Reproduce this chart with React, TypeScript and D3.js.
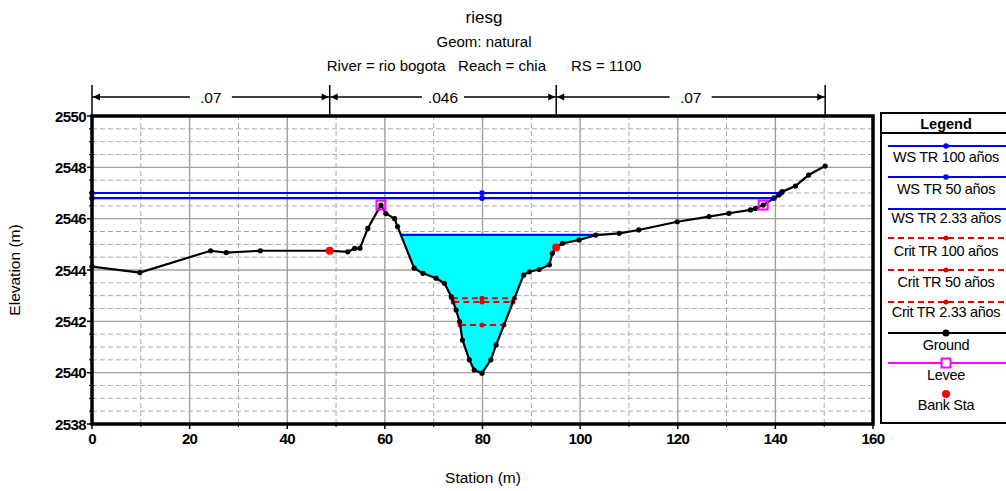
import React from 'react'
import * as d3 from 'd3'

// ground profile (station m, elevation m)
const groundSta = [0, 9.8, 24.3, 27.5, 34.5, 48.7, 52.4, 53.8, 54.9, 56.5, 59.2, 60.2, 62, 62.6, 66, 67.8, 70.5, 72.2, 73.6, 74.6, 75.3, 75.9, 77.3, 78.3, 79.9, 81.7, 82.8, 88.4, 89.6, 91.6, 93.7, 94.3, 95.1, 96.4, 99.8, 103.2, 108, 112, 119.9, 126.4, 130.5, 134.9, 135.9, 137.5, 140.7, 141.4, 144.1, 146.8, 150.2]
const groundElev = [2544.13, 2543.9, 2544.75, 2544.68, 2544.75, 2544.75, 2544.71, 2544.84, 2544.85, 2545.62, 2546.53, 2546.2, 2546.0, 2545.69, 2544.07, 2543.87, 2543.68, 2543.48, 2542.96, 2542.44, 2541.99, 2541.27, 2540.5, 2540.1, 2539.98, 2540.5, 2541.08, 2543.8, 2543.93, 2544.02, 2544.2, 2544.65, 2544.88, 2545.04, 2545.17, 2545.36, 2545.43, 2545.56, 2545.88, 2546.08, 2546.21, 2546.34, 2546.4, 2546.53, 2546.92, 2547.05, 2547.27, 2547.7, 2548.05]

const wsNames = ['WS TR 100 años', 'WS TR 50 años', 'WS TR 2.33 años']
const wsLevels = [2547.0, 2546.8, 2545.37]
const critNames = ['Crit TR 100 años', 'Crit TR 50 años', 'Crit TR 2.33 años']
const critLevels = [2542.9, 2542.75, 2541.86]

const bankSta = [48.7, 95.1]
const leveeSta = [59.2, 137.5]
const nValues = ['.07', '.046', '.07']
const nBounds = [0, 48.7, 95.1, 150.2]

const xTicks = [0, 20, 40, 60, 80, 100, 120, 140, 160]
const yTicks = [2538, 2540, 2542, 2544, 2546, 2548, 2550]

const W = 1006
const H = 491
const font = 'Arial, "Liberation Sans", sans-serif'

const x = d3.scaleLinear().domain([0, 160]).range([92, 873])
const y = d3.scaleLinear().domain([2538, 2550]).range([424, 116])

const elevAt = (s: number) => {
  for (let i = 0; i < groundSta.length - 1; i++) {
    if (s >= groundSta[i] && s <= groundSta[i + 1]) {
      const t = (s - groundSta[i]) / (groundSta[i + 1] - groundSta[i])
      return groundElev[i] + t * (groundElev[i + 1] - groundElev[i])
    }
  }
  return groundElev[groundElev.length - 1]
}

// water extent around the thalweg for a given level
const extent = (level: number) => {
  const iMin = d3.minIndex(groundElev)
  let l = groundSta[0]
  for (let i = iMin; i > 0; i--) {
    if (groundElev[i - 1] >= level) {
      const t = (level - groundElev[i]) / (groundElev[i - 1] - groundElev[i])
      l = groundSta[i] + t * (groundSta[i - 1] - groundSta[i])
      break
    }
  }
  let r = groundSta[groundSta.length - 1]
  for (let i = iMin; i < groundSta.length - 1; i++) {
    if (groundElev[i + 1] >= level) {
      const t = (level - groundElev[i]) / (groundElev[i + 1] - groundElev[i])
      r = groundSta[i] + t * (groundSta[i + 1] - groundSta[i])
      break
    }
  }
  return [l, r]
}

const thalweg = groundSta[d3.minIndex(groundElev)]

export default function App() {
  const groundPts = groundSta.map((s, i) => [s, groundElev[i]] as [number, number])
  const line = d3.line<[number, number]>().x(d => x(d[0])).y(d => y(d[1]))

  // fill for the lowest water surface
  const low = wsLevels[2]
  const [fl, fr] = extent(low)
  const fillPts: [number, number][] = [[fl, low]]
  groundPts.forEach(p => { if (p[0] > fl && p[0] < fr) fillPts.push(p) })
  fillPts.push([fr, low])

  const xMinor = d3.range(10, 160, 20)
  const yMinor = d3.range(2538.5, 2550, 0.5).filter(v => Math.abs(v % 2) > 0.01)

  const legendY = [146, 177, 209, 238, 270, 302, 333, 363, 394]
  const legendTextY = [162, 194, 223, 256, 287, 317, 350, 380, 410]
  const lx0 = 888
  const lx1 = 1010
  const lcx = 946
  const lfs = 14.5

  return (
    <div style={{ position: 'absolute', left: 0, top: 0 }}>
      <svg width={W} height={H} style={{ display: 'block', background: '#fff' }} fontFamily={font}>
        {/* titles */}
        <text x={484} y={23} fontSize={17} textAnchor="middle">riesg</text>
        <text x={484} y={47} fontSize={15} textAnchor="middle">Geom: natural</text>
        <text x={484} y={71} fontSize={15} textAnchor="middle" style={{ whiteSpace: 'pre' }}>
          {'River = rio bogota   Reach = chia      RS = 1100'}
        </text>

        {/* grid */}
        {yMinor.map(v => (
          <line key={'ym' + v} x1={x(0)} x2={x(160)} y1={y(v)} y2={y(v)} stroke="#aaa" strokeDasharray="5,3" />
        ))}
        {xMinor.map(v => (
          <line key={'xm' + v} x1={x(v)} x2={x(v)} y1={y(2538)} y2={y(2550)} stroke="#aaa" strokeDasharray="5,3" />
        ))}
        {yTicks.map(v => (
          <line key={'yg' + v} x1={x(0)} x2={x(160)} y1={y(v)} y2={y(v)} stroke="#a0a0a0" strokeWidth={1.4} />
        ))}
        {xTicks.map(v => (
          <line key={'xg' + v} x1={x(v)} x2={x(v)} y1={y(2538)} y2={y(2550)} stroke="#a0a0a0" strokeWidth={1.4} />
        ))}

        {/* water fill */}
        <path d={line(fillPts) + 'Z'} fill="#00ffff" />

        {/* crit lines */}
        {critLevels.map((lv, i) => {
          const [a, b] = extent(lv)
          return (
            <g key={'c' + i}>
              <line x1={x(a)} x2={x(b)} y1={y(lv)} y2={y(lv)} stroke="#e00000" strokeWidth={2} strokeDasharray="6,4" />
              {[a, thalweg, b].map((s, j) => (
                <circle key={j} cx={x(s)} cy={y(lv)} r={2.5} fill="#e00000" />
              ))}
            </g>
          )
        })}

        {/* WS lines */}
        {wsLevels.map((lv, i) => {
          const [a, b] = extent(lv)
          return (
            <g key={'w' + i}>
              <line x1={x(a)} x2={x(b)} y1={y(lv)} y2={y(lv)} stroke="#0000ff" strokeWidth={2.2} />
              {i < 2 && [a, thalweg, b].map((s, j) => (
                <circle key={j} cx={x(s)} cy={y(lv)} r={2.8} fill="#0000ff" />
              ))}
            </g>
          )
        })}

        {/* ground */}
        <path d={line(groundPts) ?? ''} fill="none" stroke="#000" strokeWidth={2.2} />
        {groundPts.map((p, i) => (
          <circle key={'g' + i} cx={x(p[0])} cy={y(p[1])} r={2.6} fill="#000" />
        ))}

        {/* levees */}
        {leveeSta.map(s => (
          <rect key={'l' + s} x={x(s) - 4.5} y={y(elevAt(s)) - 4.5} width={9} height={9} fill="none" stroke="#ff00ff" strokeWidth={2} />
        ))}

        {/* bank stations */}
        {bankSta.map(s => (
          <circle key={'b' + s} cx={x(s)} cy={y(elevAt(s))} r={4} fill="#ff0000" />
        ))}

        {/* frame */}
        <rect x={x(0)} y={y(2550)} width={x(160) - x(0)} height={y(2538) - y(2550)} fill="none" stroke="#000" strokeWidth={3.5} />

        {/* ticks */}
        {yTicks.map(v => (
          <g key={'yt' + v}>
            <line x1={x(0) - 5} x2={x(0)} y1={y(v)} y2={y(v)} stroke="#000" strokeWidth={1.5} />
            <text x={x(0) - 6} y={y(v) + 5.5} fontSize={15} textAnchor="end" fontWeight="bold" letterSpacing={-0.6}>{v}</text>
          </g>
        ))}
        {d3.range(2538.5, 2550, 0.5).map(v => (
          <line key={'ytm' + v} x1={x(0) - 3} x2={x(0)} y1={y(v)} y2={y(v)} stroke="#000" />
        ))}
        {xTicks.map(v => (
          <g key={'xt' + v}>
            <line x1={x(v)} x2={x(v)} y1={y(2538)} y2={y(2538) + 5} stroke="#000" strokeWidth={1.5} />
            <text x={x(v)} y={y(2538) + 20} fontSize={15} textAnchor="middle" fontWeight="bold" letterSpacing={-0.6}>{v}</text>
          </g>
        ))}
        {xMinor.map(v => (
          <line key={'xtm' + v} x1={x(v)} x2={x(v)} y1={y(2538)} y2={y(2538) + 3} stroke="#000" />
        ))}

        {/* axis labels */}
        <text x={483} y={483} fontSize={15.5} textAnchor="middle">Station (m)</text>
        <text transform={`translate(20,270) rotate(-90)`} fontSize={15.5} textAnchor="middle">Elevation (m)</text>

        {/* n values */}
        {nValues.map((n, i) => {
          const a = x(nBounds[i])
          const b = x(nBounds[i + 1])
          const m = (a + b) / 2
          return (
            <g key={'n' + i}>
              <line x1={a} x2={b} y1={97} y2={97} stroke="#000" strokeWidth={1.5} />
              <path d={`M${a + 1},97 l7,-3.5 v7 Z`} fill="#000" />
              <path d={`M${b - 1},97 l-7,-3.5 v7 Z`} fill="#000" />
              <rect x={m - 21} y={88} width={42} height={18} fill="#fff" />
              <text x={m} y={103} fontSize={15.5} textAnchor="middle">{n}</text>
            </g>
          )
        })}
        {nBounds.map((s, i) => (
          <line key={'nb' + i} x1={x(s)} x2={x(s)} y1={85} y2={116} stroke="#000" strokeWidth={1.5} />
        ))}

        {/* legend */}
        <rect x={881} y={113} width={140} height={310} fill="#fff" stroke="#000" strokeWidth={2} />
        <line x1={881} x2={1010} y1={133} y2={133} stroke="#000" strokeWidth={2} />
        <text x={lcx} y={128.5} fontSize={lfs} fontWeight="bold" textAnchor="middle">Legend</text>
        {wsNames.map((n, i) => (
          <g key={'lw' + i}>
            <line x1={lx0} x2={lx1} y1={legendY[i]} y2={legendY[i]} stroke="#0000ff" strokeWidth={2} />
            {i < 2 && <circle cx={lcx} cy={legendY[i]} r={2.8} fill="#0000ff" />}
            <text x={lcx} y={legendTextY[i]} fontSize={lfs} textAnchor="middle" letterSpacing={-0.3}>{n}</text>
          </g>
        ))}
        {critNames.map((n, i) => (
          <g key={'lc' + i}>
            <line x1={lx0} x2={lx1} y1={legendY[i + 3]} y2={legendY[i + 3]} stroke="#e00000" strokeWidth={2} strokeDasharray="6,4" />
            <circle cx={lcx} cy={legendY[i + 3]} r={2.5} fill="#e00000" />
            <text x={lcx} y={legendTextY[i + 3]} fontSize={lfs} textAnchor="middle" letterSpacing={-0.3}>{n}</text>
          </g>
        ))}
        <line x1={lx0} x2={lx1} y1={legendY[6]} y2={legendY[6]} stroke="#000" strokeWidth={2} />
        <circle cx={lcx} cy={legendY[6]} r={3.5} fill="#000" />
        <text x={lcx} y={legendTextY[6]} fontSize={lfs} textAnchor="middle" letterSpacing={-0.3}>Ground</text>
        <line x1={lx0} x2={lx1} y1={legendY[7]} y2={legendY[7]} stroke="#ff00ff" strokeWidth={2} />
        <rect x={lcx - 4.5} y={legendY[7] - 4.5} width={9} height={9} fill="#fff" stroke="#ff00ff" strokeWidth={2} />
        <text x={lcx} y={legendTextY[7]} fontSize={lfs} textAnchor="middle" letterSpacing={-0.3}>Levee</text>
        <circle cx={lcx} cy={legendY[8]} r={4} fill="#ff0000" />
        <text x={lcx} y={legendTextY[8]} fontSize={lfs} textAnchor="middle" letterSpacing={-0.3}>Bank Sta</text>
      </svg>
    </div>
  )
}
